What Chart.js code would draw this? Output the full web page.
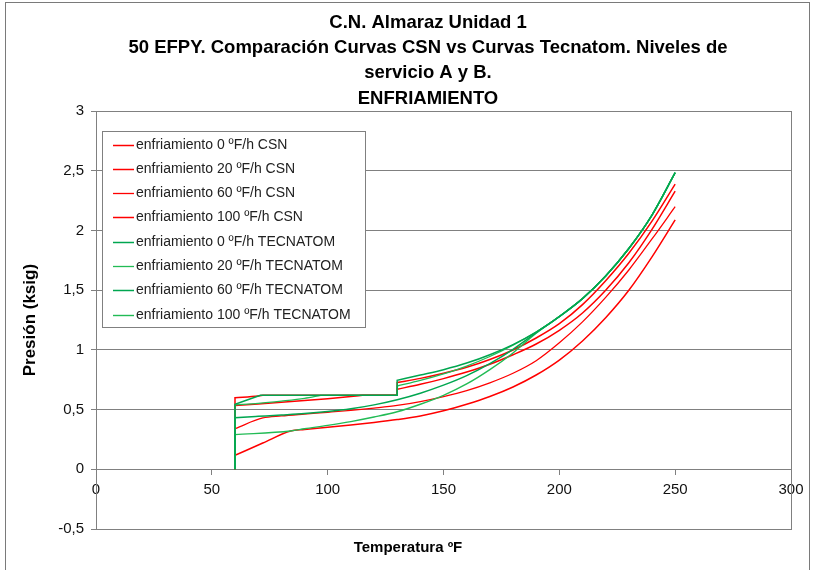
<!DOCTYPE html>
<html><head><meta charset="utf-8">
<script src="https://cdn.jsdelivr.net/npm/chart.js@4.4.0/dist/chart.umd.min.js"></script>
<style>html,body{margin:0;padding:0;background:#fff;}canvas{display:block;}</style>
</head><body>
<canvas id="c" width="813" height="570"></canvas>
<script>
// ---------- DATA ----------
const titleLines = ['C.N. Almaraz Unidad 1',
  '50 EFPY. Comparación Curvas CSN vs Curvas Tecnatom. Niveles de',
  'servicio A y B.',
  'ENFRIAMIENTO'];
const xTitle = 'Temperatura ºF';
const yTitle = 'Presión (ksig)';
const seriesLabels = ['enfriamiento 0 ºF/h CSN','enfriamiento 20 ºF/h CSN','enfriamiento 60 ºF/h CSN','enfriamiento 100 ºF/h CSN',
  'enfriamiento 0 ºF/h TECNATOM','enfriamiento 20 ºF/h TECNATOM','enfriamiento 60 ºF/h TECNATOM','enfriamiento 100 ºF/h TECNATOM'];
const xTickLabels = ['0','50','100','150','200','250','300'];
const yTickLabels = ['-0,5','0','0,5','1','1,5','2','2,5','3'];

// [temperature ºF, pressure ksig]
const csn0 = [[60,0],[60,0.60],[70,0.615],[72,0.62],[130,0.62],[130,0.727],[140,0.762],[150,0.805],[160,0.855],[170,0.92],[180,1.0],[190,1.10],[200,1.22],[210,1.38],[220,1.58],[230,1.81],[240,2.08],[250,2.39]];
const csn20 = [[60,0],[60,0.535],[70,0.547],[80,0.561],[90,0.576],[100,0.592],[110,0.610],[115,0.62],[130,0.62],[130,0.671],[140,0.712],[150,0.76],[160,0.815],[170,0.88],[180,0.96],[190,1.05],[200,1.165],[210,1.31],[220,1.50],[230,1.73],[240,2.01],[250,2.33]];
const csn60 = [[60,0],[60,0.341],[72,0.43],[80,0.447],[90,0.463],[100,0.478],[110,0.494],[120,0.513],[130,0.535],[140,0.568],[150,0.61],[160,0.66],[170,0.725],[180,0.805],[190,0.91],[200,1.06],[210,1.235],[220,1.44],[230,1.67],[240,1.93],[250,2.20]];
const csn100 = [[60,0],[60,0.117],[72,0.22],[84,0.321],[90,0.334],[100,0.353],[110,0.372],[120,0.393],[130,0.417],[140,0.447],[150,0.49],[160,0.545],[170,0.61],[180,0.69],[190,0.79],[200,0.915],[210,1.075],[220,1.27],[230,1.50],[240,1.78],[250,2.09]];
const tec0 = [[60,0],[60,0.545],[71,0.62],[130,0.62],[130,0.746],[140,0.79],[150,0.835],[160,0.89],[170,0.96],[180,1.045],[190,1.15],[200,1.28],[210,1.43],[220,1.62],[230,1.85],[240,2.13],[250,2.485]];
const tec20 = [[60,0],[60,0.54],[70,0.553],[80,0.572],[90,0.595],[97,0.62],[130,0.62],[130,0.698],[140,0.745],[150,0.80],[160,0.865],[170,0.945],[180,1.04],[190,1.15],[200,1.28],[210,1.43],[220,1.62],[230,1.85],[240,2.13],[250,2.485]];
const tec60 = [[60,0],[60,0.433],[70,0.444],[80,0.455],[90,0.467],[100,0.484],[110,0.507],[120,0.54],[130,0.583],[140,0.638],[150,0.705],[160,0.785],[170,0.885],[180,1.005],[190,1.145],[200,1.28],[210,1.43],[220,1.62],[230,1.85],[240,2.13],[250,2.485]];
const tec100 = [[60,0],[60,0.291],[84,0.321],[90,0.34],[100,0.368],[110,0.40],[120,0.438],[130,0.482],[140,0.545],[150,0.62],[160,0.715],[170,0.835],[180,0.975],[190,1.14],[200,1.28],[210,1.43],[220,1.62],[230,1.85],[240,2.13],[250,2.485]];

const allSeries = [csn0, csn20, csn60, csn100, tec0, tec20, tec60, tec100];

// ---------- STYLE ----------
const RED = '#ff0000', GREEN = '#00a650';
const lineColors = [RED, RED, RED, RED, GREEN, '#22bb55', GREEN, '#22bb55'];
const lineWidths = [1.5, 1.5, 1.3, 1.5, 1.5, 1.3, 1.5, 1.4];
const FONT = "'Liberation Sans', Arial, Helvetica, sans-serif";
Chart.defaults.font.family = FONT;

const datasets = allSeries.map((s, i) => ({
  label: seriesLabels[i],
  data: s.map(([x, y]) => ({x, y})),
  borderColor: lineColors[i],
  backgroundColor: lineColors[i],
  borderWidth: lineWidths[i],
  pointRadius: 0,
  showLine: true,
  fill: false,
  cubicInterpolationMode: 'monotone',
  order: i < 4 ? 1 : 0,
  xAxisID: 'x',
  yAxisID: 'y'
}));

// keep corners (vertical steps, joins with the flat limit) sharp; smooth elsewhere
const cornerFix = {
  id: 'cornerFix',
  beforeDatasetsDraw(chart) {
    chart.getSortedVisibleDatasetMetas().forEach(meta => {
      const line = meta.dataset, pts = meta.data;
      if (!line || !pts) return;
      line.updateControlPoints(chart.chartArea, 'x');
      for (let i = 0; i < pts.length; i++) {
        const p = pts[i], a = pts[i - 1], b = pts[i + 1];
        const sa = (a && Math.abs(a.x - p.x) > 0.01) ? (p.y - a.y) / (p.x - a.x) : null;
        const sb = (b && Math.abs(b.x - p.x) > 0.01) ? (b.y - p.y) / (b.x - p.x) : null;
        const corner = sa === null || sb === null || Math.sign(sa) !== Math.sign(sb);
        if (!corner) continue;
        if (a && sa !== null) { p.cp1x = p.x - (p.x - a.x) / 3; p.cp1y = p.y - sa * (p.x - a.x) / 3; }
        if (b && sb !== null) { p.cp2x = p.x + (b.x - p.x) / 3; p.cp2y = p.y + sb * (b.x - p.x) / 3; }
      }
    });
  }
};

const framePlugin = {
  id: 'frame',
  beforeDraw(chart) {
    const {ctx} = chart;
    ctx.save();
    ctx.fillStyle = '#fff';
    ctx.fillRect(0, 0, chart.width, chart.height);
    ctx.strokeStyle = '#7a7a7a';
    ctx.lineWidth = 1;
    ctx.strokeRect(5.5, 2.5, 804, 640);
    ctx.restore();
  },
  afterDraw(chart) {
    const {ctx} = chart;
    ctx.save();
    ctx.font = 'bold 15px ' + FONT;
    ctx.fillStyle = '#000';
    ctx.textAlign = 'center';
    ctx.textBaseline = 'middle';
    ctx.fillText(xTitle, 408, 548);
    ctx.restore();
  }
};

const boxLegend = {
  id: 'boxLegend',
  afterDatasetsDraw(chart) {
    const {ctx, chartArea: a} = chart;
    const x0 = Math.round(a.left + 6), y0 = Math.round(a.top + 20), w = 263, h = 196;
    ctx.save();
    ctx.fillStyle = '#fff';
    ctx.fillRect(x0, y0, w, h);
    ctx.strokeStyle = '#808080';
    ctx.lineWidth = 1;
    ctx.strokeRect(x0 + 0.5, y0 + 0.5, w, h);
    ctx.font = '14px ' + FONT;
    ctx.textBaseline = 'middle';
    chart.data.datasets.forEach((ds, i) => {
      const cy = Math.round(y0 + 13.5 + i * 24.3) + 0.5;
      ctx.strokeStyle = ds.borderColor;
      ctx.lineWidth = ds.borderWidth;
      ctx.beginPath();
      ctx.moveTo(x0 + 11, cy);
      ctx.lineTo(x0 + 32, cy);
      ctx.stroke();
      ctx.fillStyle = '#222';
      ctx.fillText(ds.label, x0 + 34, cy);
    });
    ctx.restore();
  }
};

new Chart(document.getElementById('c'), {
  type: 'scatter',
  data: {datasets},
  plugins: [framePlugin, cornerFix, boxLegend],
  options: {
    responsive: false,
    animation: false,
    devicePixelRatio: 1,
    layout: {padding: {left: 43, right: 0, top: 0, bottom: 41}},
    plugins: {
      legend: {display: false},
      tooltip: {enabled: false},
      title: {
        display: true,
        text: titleLines,
        color: '#000',
        font: {size: 18.5, weight: 'bold', lineHeight: 1.368},
        padding: {top: 10, bottom: 0}
      }
    },
    scales: {
      x: {
        type: 'linear',
        position: {y: 0},
        min: 0, max: 300,
        ticks: {stepSize: 50, font: {size: 15}, color: '#111', padding: 7, maxRotation: 0, autoSkip: false,
          callback: (v, i) => xTickLabels[i]},
        grid: {drawOnChartArea: false, drawTicks: true, tickLength: 5, color: '#808080'},
        border: {display: true, color: '#808080'}
      },
      y: {
        type: 'linear',
        position: 'left',
        min: -0.5, max: 3,
        ticks: {stepSize: 0.5, font: {size: 15}, color: '#111', padding: 7,
          callback: (v, i) => yTickLabels[i]},
        grid: {color: '#808080', tickLength: 5},
        border: {display: true, color: '#808080'},
        title: {display: true, text: yTitle, color: '#000', font: {size: 17, weight: 'bold'}, padding: {top: -23.2, bottom: 0}},
        afterFit: s => { s.width = 53; }
      },
      yR: {
        type: 'linear',
        position: 'right',
        display: true,
        ticks: {display: false},
        grid: {drawOnChartArea: false, drawTicks: false},
        border: {display: true, color: '#808080'},
        afterFit: s => { s.width = 22; }
      }
    }
  }
});
</script>
</body></html>
